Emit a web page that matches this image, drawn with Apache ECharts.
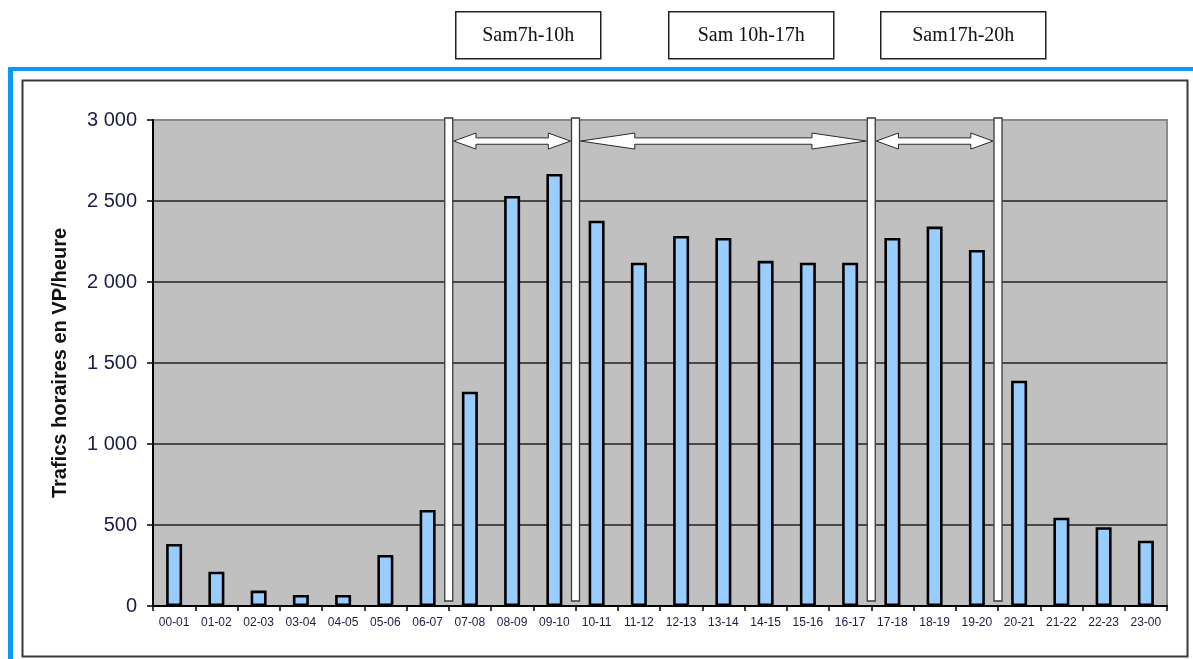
<!DOCTYPE html>
<html>
<head>
<meta charset="utf-8">
<script src="https://cdn.jsdelivr.net/npm/echarts@6/dist/echarts.min.js"></script>
<style>
  html, body { margin: 0; padding: 0; background: #ffffff; }
  #chart { width: 1193px; height: 659px; }
</style>
</head>
<body>
<div id="chart"></div>
<script>
// Hourly Saturday traffic (VP/heure) by hour slot
const hours = ['00-01','01-02','02-03','03-04','04-05','05-06','06-07','07-08','08-09','09-10','10-11','11-12',
               '12-13','13-14','14-15','15-16','16-17','17-18','18-19','19-20','20-21','21-22','22-23','23-00'];
const traffic = [383, 212, 95, 68, 68, 315, 593, 1323, 2531, 2667, 2378, 2119,
                 2284, 2272, 2131, 2119, 2119, 2272, 2342, 2198, 1391, 545, 486, 403];

// Period limits: index of the last hour slot before each divider
const dividers = [6, 9, 16, 19];
// Periods spanned by double arrows (pairs of divider indices)
const periods = [[6, 9], [9, 16], [16, 19]];
const periodLabels = ['Sam7h-10h', 'Sam 10h-17h', 'Sam17h-20h'];
const arrowLevel = 2870;

const yTicks = [0, 500, 1000, 1500, 2000, 2500, 3000];
const yTitle = 'Trafics horaires en VP/heure';

const chart = echarts.init(document.getElementById('chart'), null, { renderer: 'canvas' });

function fmtThousands(v) {
  const s = String(v);
  return s.length > 3 ? s.slice(0, s.length - 3) + ' ' + s.slice(-3) : s;
}

// Vertical divider bars drawn at hour-slot boundaries
function renderDivider(params, api) {
  const idx = api.value(0);
  const c = api.coord([idx, 0]);
  const band = api.size([1, 0])[0];
  const x = c[0] + band / 2;
  const top = api.coord([idx, yTicks[yTicks.length - 1]])[1] - 2;
  const bottom = c[1] - 5;
  return {
    type: 'rect',
    shape: { x: x - 4, y: top, width: 8, height: bottom - top },
    style: { fill: '#ffffff', stroke: '#3a3a3a', lineWidth: 1.3 }
  };
}

// White double-headed arrows between dividers
function renderArrow(params, api) {
  const a = api.value(0), b = api.value(1);
  const band = api.size([1, 0])[0];
  const p1 = api.coord([a, arrowLevel]);
  const p2 = api.coord([b, arrowLevel]);
  const x1 = p1[0] + band / 2 + 5;
  const x2 = p2[0] + band / 2 - 5;
  const y = p1[1];
  const len = x2 - x1;
  const head = len * 0.19;
  const hh = 8, sh = 3.2;
  const pts = [
    [x1, y],
    [x1 + head, y - hh],
    [x1 + head, y - sh],
    [x2 - head, y - sh],
    [x2 - head, y - hh],
    [x2, y],
    [x2 - head, y + hh],
    [x2 - head, y + sh],
    [x1 + head, y + sh],
    [x1 + head, y + hh]
  ];
  return {
    type: 'polygon',
    shape: { points: pts },
    style: { fill: '#ffffff', stroke: '#2a2a2a', lineWidth: 1 }
  };
}

// Period caption boxes above the chart
const boxX = [455, 668, 880];
const boxW = [145, 165, 165];
const boxGraphics = periodLabels.map((t, i) => ({
  type: 'group',
  left: boxX[i],
  top: 11,
  children: [
    { type: 'rect', shape: { x: 0, y: 0, width: boxW[i], height: 47 },
      style: { fill: '#ffffff', stroke: '#222', lineWidth: 1.5 } },
    { type: 'text', x: boxW[i] / 2, y: 24,
      style: { text: t, font: '20px "Liberation Serif", "DejaVu Serif", serif', fill: '#111',
               textAlign: 'center', textVerticalAlign: 'middle' } }
  ]
}));

const option = {
  animation: false,
  backgroundColor: '#ffffff',
  grid: {
    left: 153, right: 26, top: 120, bottom: 53,
    show: true, backgroundColor: '#c0c0c0', borderColor: '#8a8a8a', borderWidth: 2
  },
  graphic: [
    // outer blue frame (top and left edges)
    { type: 'rect', shape: { x: 8, y: 67, width: 1185, height: 4 }, style: { fill: '#0a9af5' }, z: 10 },
    { type: 'rect', shape: { x: 8, y: 67, width: 5, height: 592 }, style: { fill: '#0a9af5' }, z: 10 },
    // inner chart frame
    { type: 'rect', shape: { x: 22.5, y: 80.5, width: 1165, height: 576 },
      style: { fill: 'none', stroke: '#3a3a3a', lineWidth: 2 }, z: 10 },
    ...boxGraphics
  ],
  xAxis: {
    type: 'category',
    data: hours,
    boundaryGap: true,
    axisLine: { lineStyle: { color: '#000', width: 2 } },
    axisTick: { show: true, alignWithLabel: false, length: 5, lineStyle: { color: '#000', width: 1.5 } },
    axisLabel: { interval: 0, margin: 11, fontSize: 12, color: '#1c1c48',
                 fontFamily: '"Liberation Sans", Arial, sans-serif' },
    splitLine: { show: false }
  },
  yAxis: {
    type: 'value',
    min: 0, max: 3000, interval: 500,
    name: yTitle,
    nameLocation: 'middle',
    nameGap: 83,
    nameRotate: 90,
    nameTextStyle: { fontSize: 20, fontWeight: 'bold', color: '#111',
                     fontFamily: '"Liberation Sans", Arial, sans-serif' },
    axisLine: { show: true, lineStyle: { color: '#000', width: 2 } },
    axisTick: { show: true, length: 6, lineStyle: { color: '#000', width: 1.5 } },
    axisLabel: { margin: 16, fontSize: 20, color: '#1c1c48',
                 fontFamily: '"Liberation Sans", Arial, sans-serif',
                 formatter: v => fmtThousands(v) },
    splitLine: { show: true, lineStyle: { color: ['#000', '#222', '#222', '#222', '#222', '#222', '#8a8a8a'], width: 1.5 } }
  },
  series: [
    {
      type: 'bar',
      data: traffic,
      barWidth: 16,
      itemStyle: { color: '#99ccff', borderColor: '#000', borderWidth: 2.6 },
      z: 3
    },
    {
      type: 'custom',
      renderItem: renderDivider,
      data: dividers.map(d => [d]),
      encode: { x: 0 },
      clip: false,
      z: 5
    },
    {
      type: 'custom',
      renderItem: renderArrow,
      data: periods.map(p => [p[0], p[1]]),
      encode: { x: [0, 1] },
      clip: false,
      z: 6
    }
  ]
};

chart.setOption(option);
</script>
</body>
</html>
